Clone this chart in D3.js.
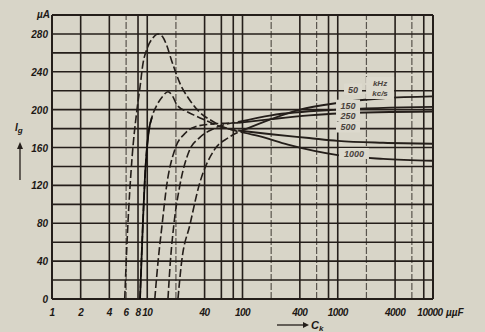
<!DOCTYPE html>
<html>
<head>
<meta charset="utf-8">
<script src="https://cdn.jsdelivr.net/npm/d3@7"></script>
<style>
  body { margin: 0; background: #d8d5c8; }
  text { font-family: "Liberation Sans", Arial, sans-serif; font-weight: bold; font-style: italic; fill: #1c1815; }
</style>
</head>
<body>
<svg id="chart" width="485" height="332"></svg>
<script>
var width = 485;
var height = 332;
var margin = { left: 52, right: 52, top: 15, bottom: 33 };

// ticks
var xTickLabels = [1, 2, 4, 6, 8, 10, 40, 100, 400, 1000, 4000, 10000];
var xGrid = [1, 2, 4, 6, 8, 10, 20, 40, 60, 80, 100, 200, 400, 600, 800, 1000, 2000, 4000, 6000, 8000, 10000];
var xGridLight = [6, 20, 200, 600, 2000, 6000];
var yTickLabels = [0, 40, 80, 120, 160, 200, 240, 280];
var yGrid = d3.range(0, 301, 20);

// curves, one per frequency (kHz): C_k in pF, I_g in uA
var freqs = ["1000", "500", "250", "150", "50"];
var c1000 = [5.8, 6.2, 6.9, 7.8, 8.4, 9, 10, 11.5, 13, 14.5, 16, 18, 22, 28, 35, 50, 70, 100, 150, 300, 1000, 3000, 10000];
var i1000 = [0, 70, 147, 200, 224, 248, 265, 276, 280, 277, 268, 252, 228, 210, 198, 187, 180, 176, 172, 163, 152, 148, 146];
var c500 = [8.4, 9, 9.6, 10.3, 11.2, 12.5, 14.5, 16.5, 18.5, 20.5, 26, 33, 45, 58, 90, 200, 500, 1000, 3000, 10000];
var i500 = [0, 80, 140, 175, 192, 204, 214, 219, 214, 205, 198, 193, 187, 182, 178, 174, 170, 167, 165, 164];
var c250 = [12, 13, 14.3, 16, 19.5, 25, 32, 50, 90, 200, 500, 1000, 10000];
var i250 = [0, 40, 78, 120, 158, 175, 182, 185, 186, 190, 194, 196, 198];
var c150 = [16.5, 17.5, 19, 22, 28, 35, 50, 90, 200, 1000, 10000];
var i150 = [0, 40, 78, 120, 158, 170, 180, 187, 194, 200, 203];
var c50 = [21, 23, 28, 35, 51, 70, 100, 200, 400, 1000, 3000, 10000];
var i50 = [0, 40, 78, 120, 158, 170, 178, 190, 200, 207, 212, 214];

var seriesC = [c1000, c500, c250, c150, c50];
var seriesI = [i1000, i500, i250, i150, i50];

// label boxes in the plot, [C, I] of the text
var labelText = ["50", "150", "250", "500", "1000"];
var labelC = [1446, 1282, 1282, 1282, 1480];
var labelI = [218, 201, 190, 178, 150];

var svg = d3.select("#chart");

svg.append("rect")
  .attr("width", width)
  .attr("height", height)
  .attr("fill", "#d8d5c8");

var x = d3.scaleLog()
  .domain([1, 10000])
  .range([margin.left, width - margin.right]);

var y = d3.scaleLinear()
  .domain([0, 300])
  .range([height - margin.bottom, margin.top]);

var ink = "#241e1a";

// grid
svg.append("g")
  .selectAll("line")
  .data(yGrid)
  .enter()
  .append("line")
  .attr("x1", x(1))
  .attr("x2", x(10000))
  .attr("y1", d => y(d))
  .attr("y2", d => y(d))
  .attr("stroke", ink)
  .attr("stroke-width", d => (d === 0 || d === 300) ? 2 : 1.6);

svg.append("g")
  .selectAll("line")
  .data(xGrid)
  .enter()
  .append("line")
  .attr("x1", d => x(d))
  .attr("x2", d => x(d))
  .attr("y1", y(0))
  .attr("y2", y(300))
  .attr("stroke", ink)
  .attr("stroke-opacity", d => xGridLight.indexOf(d) >= 0 ? 0.7 : 1)
  .attr("stroke-dasharray", d => xGridLight.indexOf(d) >= 0 ? "7,2" : null)
  .attr("stroke-width", d => (d === 1 || d === 10000) ? 2 : (xGridLight.indexOf(d) >= 0 ? 1.2 : 1.6));

// curves
var line = d3.line()
  .x(d => x(d[0]))
  .y(d => y(d[1]))
  .curve(d3.curveMonotoneX);

var split = 90;
var curves = svg.append("g");

seriesC.forEach(function (cs, k) {
  var pts = cs.map((c, j) => [c, seriesI[k][j]]);
  var n = pts.findIndex(p => p[0] >= split);
  var lead = pts.slice(0, n + 1);
  var tail = pts.slice(n);

  curves.append("path")
    .attr("d", line(lead))
    .attr("fill", "none")
    .attr("stroke", ink)
    .attr("stroke-width", 1.6)
    .attr("stroke-dasharray", "8,3");

  curves.append("path")
    .attr("d", line(tail))
    .attr("fill", "none")
    .attr("stroke", ink)
    .attr("stroke-width", 1.9);

  // the 500 curve starts as a solid stroke
  if (freqs[k] === "500") {
    curves.append("path")
      .attr("d", line(pts.filter(p => p[0] <= 11.2)))
      .attr("fill", "none")
      .attr("stroke", "#100c0a")
      .attr("stroke-width", 1.8);
  }
});

// labels on the right
var labels = svg.append("g");
labelText.forEach(function (t, k) {
  var lx = x(labelC[k]);
  var ly = y(labelI[k]);
  var w = t.length * 6 + 6;
  labels.append("rect")
    .attr("x", lx - w / 2)
    .attr("y", ly - 9)
    .attr("width", w)
    .attr("height", 11)
    .attr("fill", "#dcd9cd");
  labels.append("text")
    .attr("x", lx)
    .attr("y", ly)
    .attr("text-anchor", "middle")
    .style("font-size", "9px")
    .style("fill", "#4a433d")
    .text(t);
});

var ux = x(2780);
labels.append("rect")
  .attr("x", ux - 14)
  .attr("y", y(225) - 9)
  .attr("width", 28)
  .attr("height", 22)
  .attr("fill", "#dcd9cd");
labels.append("text")
  .attr("x", ux)
  .attr("y", y(225))
  .attr("text-anchor", "middle")
  .style("font-size", "8px")
  .style("fill", "#4a433d")
  .text("kHz");
labels.append("text")
  .attr("x", ux)
  .attr("y", y(214.5))
  .attr("text-anchor", "middle")
  .style("font-size", "8px")
  .style("fill", "#4a433d")
  .text("kc/s");

// tick labels
svg.append("g")
  .selectAll("text")
  .data(yTickLabels)
  .enter()
  .append("text")
  .attr("x", x(1) - 4)
  .attr("y", d => y(d) + 4)
  .attr("text-anchor", "end")
  .style("font-size", "10px")
  .text(d => d);

svg.append("text")
  .attr("x", x(1) - 2)
  .attr("y", y(300) + 3)
  .attr("text-anchor", "end")
  .style("font-size", "10px")
  .text("\u00b5A");

svg.append("g")
  .selectAll("text")
  .data(xTickLabels)
  .enter()
  .append("text")
  .attr("x", d => x(d) - (d === 10000 ? 3 : 0))
  .attr("y", y(0) + 17)
  .attr("text-anchor", "middle")
  .style("font-size", "10px")
  .style("letter-spacing", "-0.5px")
  .text(d => d);

svg.append("text")
  .attr("x", x(10000) + 13)
  .attr("y", y(0) + 17)
  .style("font-size", "10px")
  .text("\u00b5\u00b5F");

// axis captions with arrows
svg.append("line")
  .attr("x1", 277).attr("x2", 303)
  .attr("y1", 325).attr("y2", 325)
  .attr("stroke", ink).attr("stroke-width", 1.3);
svg.append("path")
  .attr("d", "M303,322L309,325L303,328Z")
  .attr("fill", ink);
var ck = svg.append("text")
  .attr("x", 311)
  .attr("y", 329)
  .style("font-size", "11px");
ck.append("tspan").text("C");
ck.append("tspan").attr("dy", 2).style("font-size", "8px").text("k");

svg.append("line")
  .attr("x1", 20).attr("x2", 20)
  .attr("y1", 180).attr("y2", 148)
  .attr("stroke", ink).attr("stroke-width", 1.3);
svg.append("path")
  .attr("d", "M17,149L20,142L23,149Z")
  .attr("fill", ink);
var ig = svg.append("text")
  .attr("x", 15)
  .attr("y", 131)
  .style("font-size", "10px");
ig.append("tspan").text("I");
ig.append("tspan").attr("dy", 2).style("font-size", "8px").text("g");
</script>
</body>
</html>
